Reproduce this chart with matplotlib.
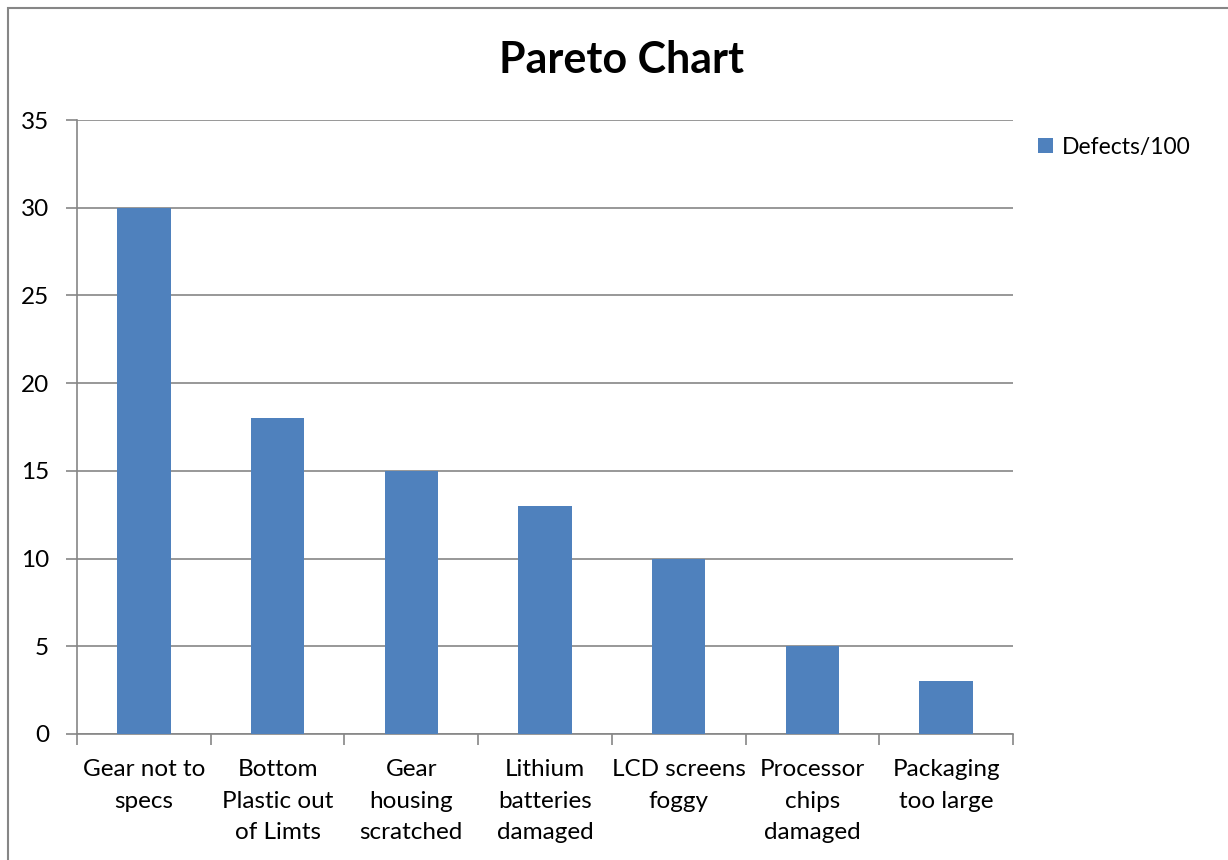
import numpy as np
import matplotlib.pyplot as plt
from matplotlib.patches import Rectangle

categories = ['Gear not to\nspecs', 'Bottom\nPlastic out\nof Limts', 'Gear\nhousing\nscratched',
              'Lithium\nbatteries\ndamaged', 'LCD screens\nfoggy', 'Processor\nchips\ndamaged',
              'Packaging\ntoo large']
defects = [30, 18, 15, 13, 10, 5, 3]
y_ticks = [0, 5, 10, 15, 20, 25, 30, 35]

plt.rcParams['font.family'] = ['Lato', 'DejaVu Sans']
grey = '#868686'
blue = '#4f81bd'

fig = plt.figure(figsize=(12.28, 8.6), dpi=100)
# chart frame (only left and top edges visible in the reference)
fig.patches.append(Rectangle((8 / 1228, -0.1), 1.2, 1 - 8 / 860 + 0.1, transform=fig.transFigure,
                             fill=False, edgecolor=grey, linewidth=1.5))

ax = fig.add_axes([77 / 1228, 1 - 734 / 860, (1013 - 77) / 1228, (734 - 120) / 860])
x = np.arange(len(categories))
ax.bar(x, defects, width=0.4, color=blue, label='Defects/100', zorder=3)

ax.set_xlim(-0.5, len(categories) - 0.5)
ax.set_ylim(0, 35)
ax.set_yticks(y_ticks)
ax.yaxis.grid(True, color=grey, linewidth=1.2, zorder=0)
ax.tick_params(axis='y', length=8, color=grey, width=1.2, labelsize=17.5, pad=12)

ax.set_xticks(x)
ax.set_xticklabels(categories, fontsize=17.5, linespacing=1.62, va='top')
ax.set_xticks(np.arange(-0.5, len(categories)), minor=True)
ax.tick_params(axis='x', which='major', length=0, pad=18)
ax.tick_params(axis='x', which='minor', length=8, color=grey, width=1.2)

for s in ['top', 'right']:
    ax.spines[s].set_visible(False)
for s in ['left', 'bottom']:
    ax.spines[s].set_color(grey)
    ax.spines[s].set_linewidth(1.2)

fig.text(0.506, 0.93, 'Pareto Chart', ha='center', va='center', fontsize=31, fontweight='bold')
ax.legend(loc='center left', bbox_to_anchor=(1.027, 0.956), frameon=False, fontsize=16.5,
          handlelength=0.65, handleheight=0.65, handletextpad=0.4, borderpad=0, borderaxespad=0)

fig.savefig('out.png', dpi=100)
